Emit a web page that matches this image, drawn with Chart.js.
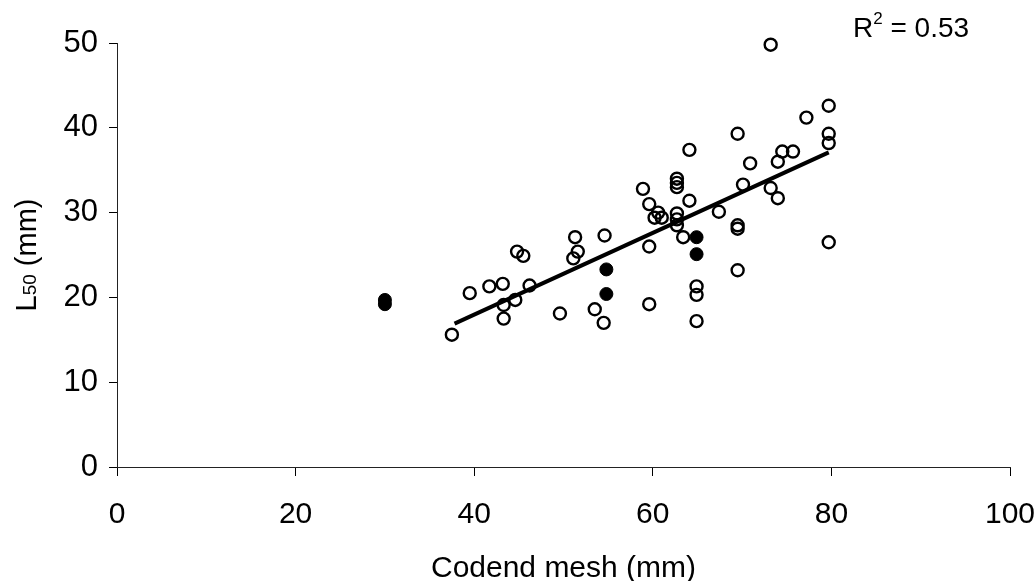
<!DOCTYPE html>
<html>
<head>
<meta charset="utf-8">
<script src="https://cdn.jsdelivr.net/npm/chart.js@4/dist/chart.umd.min.js"></script>
<style>
  html, body { margin: 0; padding: 0; background: #fff; }
  #wrap { width: 1036px; height: 581px; }
</style>
</head>
<body>
<div id="wrap"><canvas id="myChart" width="1036" height="581"></canvas></div>
<script>
// open circles (codend mesh mm, L50 mm)
const openX = [37.5, 39.5, 41.7, 43.2, 43.3, 43.3, 44.6, 44.8, 45.5, 46.2,
               49.6, 51.3, 51.6, 51.1, 53.5, 54.5, 54.6, 58.9, 59.6, 60.2,
               60.6, 61.0, 59.6, 59.6, 62.7, 62.7, 62.7, 62.7, 62.7, 62.7,
               64.1, 64.1, 63.4, 64.9, 64.9, 64.9, 67.4, 73.2, 79.7, 77.2,
               69.5, 79.7, 79.7, 74.5, 75.7, 74.0, 70.9, 70.1, 73.2, 74.0,
               69.5, 69.5, 79.7, 69.5]
const openY = [15.6, 20.5, 21.3, 21.6, 19.1, 17.5, 19.7, 25.4, 24.9, 21.4,
               18.1, 27.1, 25.4, 24.6, 18.6, 17.0, 27.3, 32.8, 31.0, 29.4,
               30.0, 29.4, 26.0, 19.2, 34.0, 33.5, 33.0, 29.9, 29.2, 28.5,
               37.4, 31.4, 27.1, 21.3, 20.3, 17.2, 30.1, 49.8, 42.6, 41.2,
               39.3, 39.3, 38.2, 37.2, 37.2, 36.0, 35.8, 33.3, 32.9, 31.7,
               28.5, 28.1, 26.5, 23.2]

// filled circles
const filledX = [30, 30, 54.8, 54.8, 64.9, 64.9]
const filledY = [19.7, 19.2, 23.3, 20.4, 27.1, 25.1]

// regression line end points
const trendX = [37.8, 79.7]
const trendY = [16.9, 37.1]

const xTicks = [0, 20, 40, 60, 80, 100]
const yTicks = [0, 10, 20, 30, 40, 50]
const rSquared = '0.53'

function toPoints(xs, ys) {
    return xs.map((x, i) => ({ x: x, y: ys[i] }))
}

const FONT = "'Liberation Sans', Arial, sans-serif"

// y axis title with subscript, and the R² note
const textPlugin = {
    id: 'textPlugin',
    afterDraw (chart) {
        const ctx = chart.ctx
        ctx.save()
        ctx.fillStyle = '#000'
        ctx.textBaseline = 'alphabetic'

        // L50 (mm), rotated
        ctx.translate(36, 255)
        ctx.rotate(-Math.PI / 2)
        ctx.font = '29px ' + FONT
        const wL = ctx.measureText('L').width
        const wRest = ctx.measureText(' (mm)').width
        ctx.font = '19px ' + FONT
        const wSub = ctx.measureText('50').width
        let x = -(wL + wSub + wRest) / 2
        ctx.font = '29px ' + FONT
        ctx.fillText('L', x, 0)
        x += wL
        ctx.font = '19px ' + FONT
        ctx.fillText('50', x, 0)
        x += wSub
        ctx.font = '29px ' + FONT
        ctx.fillText(' (mm)', x, 0)
        ctx.restore()

        // R² = 0.53
        ctx.save()
        ctx.fillStyle = '#000'
        ctx.textBaseline = 'alphabetic'
        let rx = 853
        ctx.font = '28px ' + FONT
        ctx.fillText('R', rx, 37)
        rx += ctx.measureText('R').width
        ctx.font = '17px ' + FONT
        ctx.fillText('2', rx, 24)
        rx += ctx.measureText('2').width
        ctx.font = '28px ' + FONT
        ctx.fillText(' = ' + rSquared, rx, 37)
        ctx.restore()
    }
}

const ctx = document.getElementById('myChart')
const myChart = new Chart(ctx, {
    type: 'scatter',
    data: {
        datasets: [
            {
                label: 'open',
                data: toPoints(openX, openY),
                pointStyle: 'circle',
                pointRadius: 6,
                pointBorderWidth: 2.4,
                pointBorderColor: '#000',
                pointBackgroundColor: 'rgba(0,0,0,0)',
                clip: false,
                order: 2
            },
            {
                label: 'filled',
                data: toPoints(filledX, filledY),
                pointStyle: 'circle',
                pointRadius: 6.5,
                pointBorderWidth: 1,
                pointBorderColor: '#000',
                pointBackgroundColor: '#000',
                clip: false,
                order: 1
            },
            {
                label: 'trend',
                type: 'line',
                data: toPoints(trendX, trendY),
                borderColor: '#000',
                borderWidth: 4,
                pointRadius: 0,
                fill: false,
                order: 0
            }
        ]
    },
    options: {
        responsive: false,
        animation: false,
        layout: { padding: { top: 43, right: 26, left: 0, bottom: 0 } },
        plugins: {
            legend: { display: false },
            tooltip: { enabled: false }
        },
        scales: {
            x: {
                type: 'linear',
                min: 0,
                max: 100,
                afterBuildTicks (scale) {
                    scale.ticks = xTicks.map(v => ({ value: v }))
                },
                afterFit (scale) {
                    scale.height = 114
                    scale.paddingLeft = 0
                    scale.paddingRight = 0
                },
                grid: {
                    drawOnChartArea: false,
                    drawTicks: true,
                    tickLength: 9,
                    color: '#000',
                    lineWidth: 1
                },
                border: { display: true, color: '#222', width: 1 },
                ticks: {
                    color: '#000',
                    padding: 21,
                    font: { family: FONT, size: 30 }
                },
                title: {
                    display: true,
                    text: 'Codend mesh (mm)',
                    color: '#000',
                    padding: { top: 0, bottom: 0 },
                    font: { family: FONT, size: 30, lineHeight: 0.8 }
                }
            },
            y: {
                type: 'linear',
                min: 0,
                max: 50,
                afterBuildTicks (scale) {
                    scale.ticks = yTicks.map(v => ({ value: v }))
                },
                afterFit (scale) {
                    scale.width = 117
                    scale.paddingTop = 0
                    scale.paddingBottom = 0
                },
                grid: {
                    drawOnChartArea: false,
                    drawTicks: true,
                    tickLength: 8,
                    color: '#000',
                    lineWidth: 1
                },
                border: { display: true, color: '#222', width: 1 },
                ticks: {
                    color: '#000',
                    padding: 11,
                    font: { family: FONT, size: 31 }
                }
            }
        }
    },
    plugins: [textPlugin]
})
</script>
</body>
</html>
